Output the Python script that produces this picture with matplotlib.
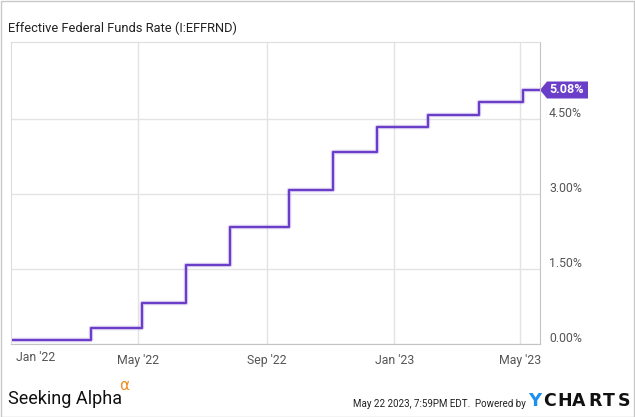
import numpy as np
import pandas as pd
import matplotlib
matplotlib.use('Agg')
import matplotlib.pyplot as plt
import matplotlib.transforms as mtransforms
from matplotlib.patches import Polygon, Rectangle
from matplotlib.textpath import TextPath
from matplotlib.font_manager import FontProperties

plt.rcParams['font.family'] = ['Roboto', 'DejaVu Sans']

# Step changes of the effective fed funds rate (date the new level starts)
change_dates = ['2021-12-31', '2022-03-17', '2022-05-05', '2022-06-16',
                '2022-07-28', '2022-09-22', '2022-11-03', '2022-12-15',
                '2023-02-02', '2023-02-27', '2023-03-23', '2023-05-04',
                '2023-05-19']
rate_values = [0.08, 0.33, 0.83, 1.58, 2.33, 3.08, 3.83, 4.33,
               4.58, 4.57, 4.83, 5.08, 5.08]

x_ticks = ['2022-05-01', '2022-09-01', '2023-01-01', '2023-05-01']
x_tick_labels = ["May '22", "Sep '22", "Jan '23", "May '23"]
y_ticks = [0.0, 1.5, 3.0, 4.5]

purple = '#6a3ec8'
grey_txt = '#555555'
grid_c = '#e3e3e3'
lab_fs = 8.8

dates = pd.to_datetime(change_dates)

fig = plt.figure(figsize=(6.35, 4.17), dpi=100)
W, H = 635, 417
ax = fig.add_axes([11 / W, (H - 344) / H, 529 / W, 302 / H])

# slight glow + line
ax.step(dates, rate_values, where='post', color=purple, lw=3.2, alpha=0.22)
ax.step(dates, rate_values, where='post', color=purple, lw=1.6)

ax.set_xlim(pd.Timestamp('2021-12-31'), pd.Timestamp('2023-05-20'))
ax.set_ylim(0, 6.04)

ax.set_xticks(pd.to_datetime(x_ticks))
ax.set_xticklabels(x_tick_labels)
ax.set_yticks(y_ticks)
ax.tick_params(axis='both', length=0, labelleft=False, labelright=False,
               colors=grey_txt, labelsize=lab_fs)
ax.tick_params(axis='x', pad=7)
ax.grid(True, color=grid_c, lw=1)
ax.set_axisbelow(True)

for s in ['left', 'top']:
    ax.spines[s].set_color('#dddddd')
for s in ['right', 'bottom']:
    ax.spines[s].set_color('#c4c4c4')

# Jan '22 label nudged right like YCharts does
xlab_tr = mtransforms.blended_transform_factory(ax.transData, ax.transAxes)
ax.text(pd.Timestamp('2022-01-01'), 0, "Jan '22", transform=xlab_tr +
        mtransforms.ScaledTranslation(24 / 100, -7 / 100, fig.dpi_scale_trans),
        ha='center', va='top', fontsize=lab_fs, color=grey_txt)

# right side y labels, sitting on the gridlines
ylab_tr = mtransforms.blended_transform_factory(ax.transAxes, ax.transData)
for v in y_ticks:
    ax.text(1, v, f'{v:.2f}%', transform=ylab_tr +
            mtransforms.ScaledTranslation(9 / 100, 2 / 100, fig.dpi_scale_trans),
            ha='left', va='baseline', fontsize=lab_fs, color=grey_txt)

# last value tag
last = rate_values[-1]
aw = 529.0
dy = 8.5 / 50
tag = Polygon([(1, last), (1 + 7 / aw, last + dy), (1 + 48 / aw, last + dy),
               (1 + 48 / aw, last - dy), (1 + 7 / aw, last - dy)],
              closed=True, transform=ylab_tr, clip_on=False,
              facecolor=purple, edgecolor='none')
ax.add_patch(tag)
ax.text(1 + 27 / aw, last, f'{last:.2f}%', transform=ylab_tr, ha='center',
        va='center', color='white', fontsize=9, fontweight='bold')

# title
fig.text(8 / W, 1 - 28 / H, 'Effective Federal Funds Rate (I:EFFRND)',
         fontsize=9.3, color='#222222', ha='left', va='center')

# footer
fig.text(8 / W, 1 - 399 / H, 'Seeking Alpha', fontsize=13, color='#111111',
         ha='left', va='center')
fig.text(119 / W, 1 - 385 / H, 'α', family='DejaVu Sans', fontsize=11,
         color='#f08a1c', ha='left', va='center')
fig.text(526 / W, 1 - 404 / H, 'May 22 2023, 7:59PM EDT.  Powered by',
         fontsize=7, color='#222222', ha='right', va='center')
fig.text(528 / W, 1 - 401 / H, 'Y', family='DejaVu Sans', fontsize=13,
         fontweight='bold', color='#1e8ff0', ha='left', va='center')

# CHARTS with wide letter spacing
brand_fp = FontProperties(family='DejaVu Sans', weight='bold', size=12.5)
x0 = 543.0
for ch in 'CHARTS':
    fig.text(x0 / W, 1 - 401 / H, ch, fontproperties=brand_fp,
             color='#111111', ha='left', va='center')
    w = TextPath((0, 0), ch, prop=brand_fp).get_extents().width * 100 / 72
    x0 += w + 3.2

# outer frame
fig.patches.append(Rectangle((0.5 / W, 0.5 / H), 1 - 1.5 / W, 1 - 1.5 / H,
                             transform=fig.transFigure, fill=False,
                             edgecolor='#c8c8c8', lw=1))

fig.savefig('out.png', dpi=100)
plt.close(fig)
